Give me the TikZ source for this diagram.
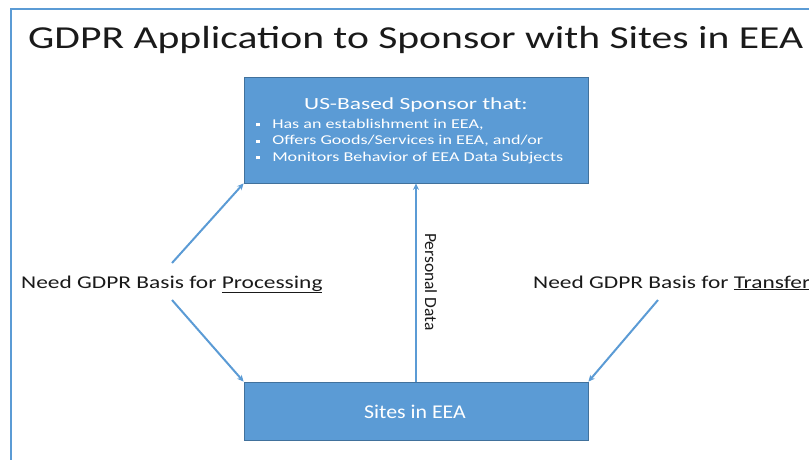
\documentclass[tikz,border=0pt]{standalone}
\usepackage{fontspec}
\setmainfont{Carlito}
\usetikzlibrary{arrows.meta}
\definecolor{boxblue}{HTML}{5B9BD5}
\definecolor{boxedge}{HTML}{41719C}
\definecolor{txt}{HTML}{1A1A1A}
\newcommand{\bul}{\rule[1.6pt]{3pt}{3pt}\hspace{9pt}}
\newcommand{\widen}[2]{\scalebox{#1}[1]{#2}}
\begin{document}
\begin{tikzpicture}[x=1pt,y=-1pt,
  bluebox/.style={draw=boxedge,line width=0.8pt,fill=boxblue,inner sep=0pt},
  conn/.style={draw=boxblue,line width=2pt,-{Stealth[length=6.5pt,width=6pt]}},
  lbl/.style={text=txt,font=\fontsize{18}{20}\selectfont,inner sep=0pt,anchor=base west},
  wtxt/.style={text=white,inner sep=0pt,anchor=base west,font=\fontsize{13.5}{16}\selectfont}]
\useasboundingbox (0,0) rectangle (809,459);
% frame
\draw[boxblue,line width=2pt] (11,470) -- (11,9) -- (820,9);
% title
\node[text=txt,font=\fontsize{32}{36}\selectfont,inner sep=0pt,anchor=base west] (title) at (28,48) {\widen{1.3}{GDPR Application to Sponsor with Sites in EEA}};
% boxes
\node[bluebox,minimum width=344pt,minimum height=106pt] (sponsor) at (416,130) {};
\node[bluebox,minimum width=344pt,minimum height=58pt] (sites) at (416,411) {};
% sponsor text
\node[text=white,font=\fontsize{17}{20}\selectfont,inner sep=0pt,anchor=base] (sphead) at (416,109.5) {\widen{1.38}{US-Based Sponsor that:}};
\node[wtxt] (b1) at (256,128) {\widen{1.34}{\bul Has an establishment in EEA,}};
\node[wtxt] (b2) at (256,144.5) {\widen{1.34}{\bul Offers Goods/Services in EEA, and/or}};
\node[wtxt] (b3) at (256,161) {\widen{1.34}{\bul Monitors Behavior of EEA Data Subjects}};
% sites text
\node[text=white,font=\fontsize{19.5}{22}\selectfont,inner sep=0pt,anchor=base] (sitestxt) at (415,418) {\widen{1.12}{Sites in EEA}};
% labels
\node[lbl] (proc) at (21,288) {\widen{1.3}{Need GDPR Basis for \underline{Processing}}};
\node[lbl] (trans) at (533,288) {\widen{1.3}{Need GDPR Basis for \underline{Transfer}}};
\node[text=txt,font=\fontsize{17}{19}\selectfont,inner sep=0pt,rotate=-90] (pd) at (431,282) {\widen{1.03}{Personal Data}};
% connector ends
\coordinate (p1) at (172,263);
\coordinate (p2) at (172,300);
\coordinate (t1) at (658,300);
% connectors
\draw[conn] (p1) -- (sponsor.south west);
\draw[conn] (p2) -- (sites.north west);
\draw[conn] (t1) -- (sites.north east);
\draw[conn] (sites.north) -- (sponsor.south);
\end{tikzpicture}
\end{document}
